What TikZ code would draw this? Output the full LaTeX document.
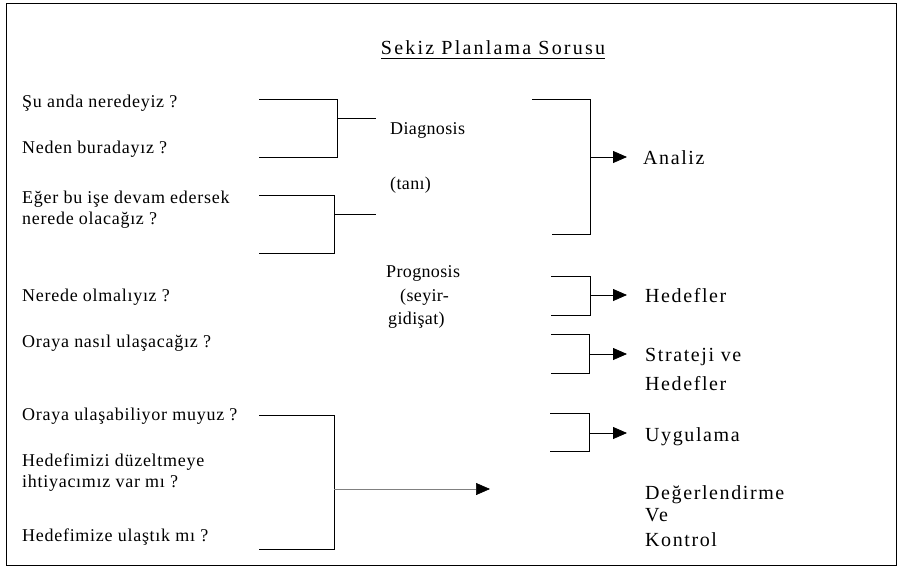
\documentclass[tikz,border=0pt]{standalone}
\usepackage{fontspec}
\setmainfont{Liberation Serif}
\newfontfamily\qfont[LetterSpace=4]{Liberation Serif}
\newfontfamily\mfont[LetterSpace=2]{Liberation Serif}
\newfontfamily\rfont[LetterSpace=8]{Liberation Serif}
\newfontfamily\tfont[LetterSpace=11]{Liberation Serif}
\usetikzlibrary{arrows.meta,calc}
\begin{document}
\begin{tikzpicture}[x=1pt,y=-1pt,
  q/.style={anchor=base west,inner sep=0pt,font=\qfont\fontsize{18}{18}\selectfont},
  mid/.style={anchor=base west,inner sep=0pt,font=\mfont\fontsize{18}{18}\selectfont},
  res/.style={anchor=base west,inner sep=0pt,font=\rfont\fontsize{20}{20}\selectfont},
  br/.style={draw=black,line width=0.8pt},
  arr/.style={draw=black,line width=0.8pt,-{Triangle[length=14pt,width=12pt]}},
  darr/.style={draw=gray,line width=0.6pt,-{Triangle[length=14pt,width=12pt,color=black]}}]
\useasboundingbox (0,0) rectangle (901,570);
\fill[white] (0,0) rectangle (901,570);
\draw[line width=0.8pt] (6,3) rectangle (896,565);

% title
\node[anchor=base,inner sep=0pt,font=\tfont\fontsize{20}{20}\selectfont] (title) at (493,54) {Sekiz Planlama Sorusu};
\draw[line width=0.7pt] ($(title.base west)+(0,4)$) -- ($(title.base east)+(0,4)$);

% left questions
\node[q] (q1) at (22,107) {Şu anda neredeyiz ?};
\node[q] (q2) at (22,153) {Neden buradayız ?};
\node[q] (q3a) at (22,203) {Eğer bu işe devam edersek};
\node[q] (q3b) at (22,224) {nerede olacağız ?};
\node[q] (q4) at (22,301) {Nerede olmalıyız ?};
\node[q] (q5) at (22,347) {Oraya nasıl ulaşacağız ?};
\node[q] (q6) at (22,420) {Oraya ulaşabiliyor muyuz ?};
\node[q] (q7a) at (22,466) {Hedefimizi düzeltmeye};
\node[q] (q7b) at (22,487) {ihtiyacımız var mı ?};
\node[q] (q8) at (22,541) {Hedefimize ulaştık mı ?};

% middle
\node[mid] (dg) at (390,134) {Diagnosis};
\node[mid] (tn) at (390,189) {(tanı)};
\node[mid] (pg) at (386,277) {Prognosis};
\node[mid] (sy) at (400,301) {(seyir-};
\node[mid] (gd) at (388,324) {gidişat)};

% right results
\node[res] (an) at (643,164) {Analiz};
\node[res] (hd) at (645,302) {Hedefler};
\node[res] (st1) at (645,361) {Strateji ve};
\node[res] (st2) at (645,390) {Hedefler};
\node[res] (uy) at (645,441) {Uygulama};
\node[res] (dk1) at (645,499) {Değerlendirme};
\node[res] (dk2) at (645,521) {Ve};
\node[res] (dk3) at (645,546) {Kontrol};

% left brackets
\coordinate (a1) at (259,99);  \coordinate (a2) at (337,99);
\coordinate (a3) at (337,157); \coordinate (a4) at (259,157);
\draw[br] (a1) -- (a2) -- (a3) -- (a4);
\coordinate (a5) at (337,118); \coordinate (a6) at (376,118);
\draw[br] (a5) -- (a6);

\coordinate (b1) at (259,195); \coordinate (b2) at (334,195);
\coordinate (b3) at (334,253); \coordinate (b4) at (259,253);
\draw[br] (b1) -- (b2) -- (b3) -- (b4);
\coordinate (b5) at (334,214); \coordinate (b6) at (376,214);
\draw[br] (b5) -- (b6);

\coordinate (c1) at (259,415); \coordinate (c2) at (334,415);
\coordinate (c3) at (334,549); \coordinate (c4) at (259,549);
\draw[br] (c1) -- (c2) -- (c3) -- (c4);
\coordinate (c5) at (334,489); \coordinate (c6) at (490,489);
\draw[darr] (c5) -- (c6);

% right brackets
\coordinate (d1) at (532,99);  \coordinate (d2) at (590,99);
\coordinate (d3) at (590,234); \coordinate (d4) at (552,234);
\draw[br] (d1) -- (d2) -- (d3) -- (d4);
\coordinate (d5) at (590,157); \coordinate (d6) at (627,157);
\draw[arr] (d5) -- (d6);

\coordinate (e1) at (551,276); \coordinate (e2) at (590,276);
\coordinate (e3) at (590,315); \coordinate (e4) at (551,315);
\draw[br] (e1) -- (e2) -- (e3) -- (e4);
\coordinate (e5) at (590,295); \coordinate (e6) at (627,295);
\draw[arr] (e5) -- (e6);

\coordinate (f1) at (551,334); \coordinate (f2) at (589,334);
\coordinate (f3) at (589,373); \coordinate (f4) at (551,373);
\draw[br] (f1) -- (f2) -- (f3) -- (f4);
\coordinate (f5) at (589,354); \coordinate (f6) at (627,354);
\draw[arr] (f5) -- (f6);

\coordinate (g1) at (550,413); \coordinate (g2) at (589,413);
\coordinate (g3) at (589,451); \coordinate (g4) at (550,451);
\draw[br] (g1) -- (g2) -- (g3) -- (g4);
\coordinate (g5) at (589,433); \coordinate (g6) at (627,433);
\draw[arr] (g5) -- (g6);
\end{tikzpicture}
\end{document}
